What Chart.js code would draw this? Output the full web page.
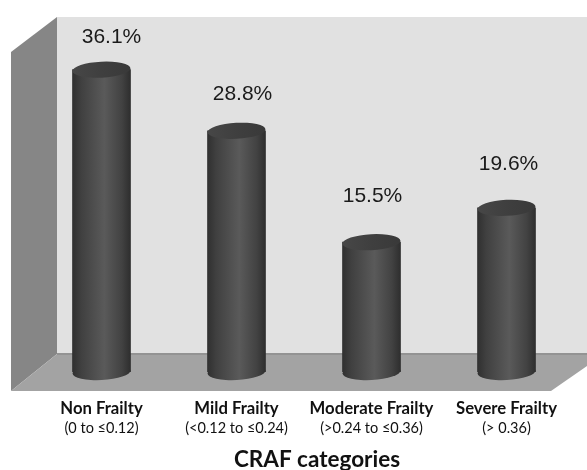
<!DOCTYPE html>
<html>
<head>
<meta charset="utf-8">
<style>
  html, body { margin: 0; padding: 0; background: #fff; }
  canvas { display: block; }
</style>
<script src="https://cdn.jsdelivr.net/npm/chart.js@4"></script>
</head>
<body>
<canvas id="craf" width="587" height="470"></canvas>
<script>
const categories = ['Non Frailty', 'Mild Frailty', 'Moderate Frailty', 'Severe Frailty'];
const ranges = ['(0 to ≤0.12)', '(<0.12 to ≤0.24)', '(>0.24 to ≤0.36)', '(> 0.36)'];
const percents = [36.1, 28.8, 15.5, 19.6];
const axisTitle = 'CRAF categories';

// nudges for the value labels, relative to the top of each cylinder
const labelDx = [10, 6, 1, 2];
const labelDy = [-32, -37, -46, -44];

const BAR_W = 58;
const TILT = -3 * Math.PI / 180;

function sideGradient(ctx, x, stops) {
    const g = ctx.createLinearGradient(x - BAR_W / 2, 0, x + BAR_W / 2, 0);
    stops.forEach(s => g.addColorStop(s[0], s[1]));
    return g;
}
const bodyStops = [[0, '#303030'], [0.15, '#404040'], [0.55, '#5a5a5a'], [0.85, '#424242'], [1, '#2e2e2e']];
const capStops = [[0, '#474747'], [0.5, '#3f3f3f'], [1, '#393939']];

// scales have no pixel positions until the first layout has run
function barFill(c) {
    const x = c.chart.scales.x ? c.chart.scales.x.getPixelForValue(c.dataIndex) : NaN;
    return Number.isFinite(x) ? sideGradient(c.chart.ctx, x, bodyStops) : '#444';
}

// back wall, side wall and floor behind the bars
const room = {
    id: 'room',
    beforeDatasetsDraw(chart) {
        const ctx = chart.ctx;
        const a = chart.chartArea;
        const poly = (pts, fill) => {
            ctx.beginPath();
            pts.forEach((p, i) => i ? ctx.lineTo(p[0], p[1]) : ctx.moveTo(p[0], p[1]));
            ctx.closePath();
            ctx.fillStyle = fill;
            ctx.fill();
        };
        const wallL = a.left + 23, floorB = a.bottom + 19, backY = a.bottom - 18;
        poly([[wallL, 17], [chart.width, 17], [chart.width, backY], [wallL, backY]], '#e1e1e1');
        poly([[wallL, 17], [11, 52], [11, floorB], [wallL, backY]], '#868686');
        poly([[wallL, backY], [chart.width, backY], [chart.width, 366], [551, floorB], [11, floorB]], '#a3a3a3');
        ctx.fillStyle = '#939393';
        ctx.fillRect(wallL, backY - 1, chart.width - wallL, 2);
        // foot of each cylinder goes under the bar body
        chart.getDatasetMeta(0).data.forEach(bar => {
            ctx.beginPath();
            ctx.ellipse(bar.x, bar.base, BAR_W / 2, 8, TILT, 0, Math.PI * 2);
            ctx.fillStyle = sideGradient(ctx, bar.x, bodyStops);
            ctx.fill();
        });
    },
    afterDatasetsDraw(chart) {
        const ctx = chart.ctx;
        const bars = chart.getDatasetMeta(0).data;
        ctx.save();
        bars.forEach((bar, i) => {
            // top cap
            ctx.beginPath();
            ctx.ellipse(bar.x, bar.y, BAR_W / 2, 8, TILT, 0, Math.PI * 2);
            ctx.fillStyle = sideGradient(ctx, bar.x, capStops);
            ctx.fill();
            // value label
            ctx.fillStyle = '#1a1a1a';
            ctx.font = '21px "Liberation Sans"';
            ctx.textAlign = 'center';
            ctx.textBaseline = 'middle';
            ctx.fillText(percents[i].toFixed(1) + '%', bar.x + labelDx[i], bar.y + labelDy[i]);
        });
        // axis caption
        const x = chart.scales.x;
        ctx.fillStyle = '#111';
        ctx.font = 'bold 22.5px Lato';
        ctx.fillText(axisTitle, (x.left + x.right) / 2 + 13, 460);
        ctx.restore();
    }
};

new Chart(document.getElementById('craf'), {
    type: 'bar',
    data: {
        labels: categories,
        datasets: [{
            data: percents,
            barThickness: BAR_W,
            borderWidth: 0,
            backgroundColor: barFill
        }]
    },
    plugins: [room],
    options: {
        responsive: false,
        animation: false,
        layout: { padding: { left: 34, right: 13, top: 37, bottom: 0 } },
        plugins: { legend: { display: false }, tooltip: { enabled: false } },
        scales: {
            y: { display: false, min: 0, max: 40 },
            x: {
                weight: 1,
                grid: { display: false, drawTicks: false },
                border: { display: false },
                afterFit: s => { s.height = 46; },
                ticks: { color: '#111', padding: 27, maxRotation: 0, autoSkip: false, font: { family: 'Lato', size: 16.7, weight: 'bold' } }
            },
            x2: {
                type: 'category',
                position: 'bottom',
                weight: 2,
                offset: true,
                labels: ranges,
                grid: { display: false, drawTicks: false },
                border: { display: false },
                afterFit: s => { s.height = 52; },
                ticks: { color: '#111', padding: 2, maxRotation: 0, autoSkip: false, font: { family: 'Lato', size: 14.5 } }
            }
        }
    }
});
</script>
</body>
</html>
